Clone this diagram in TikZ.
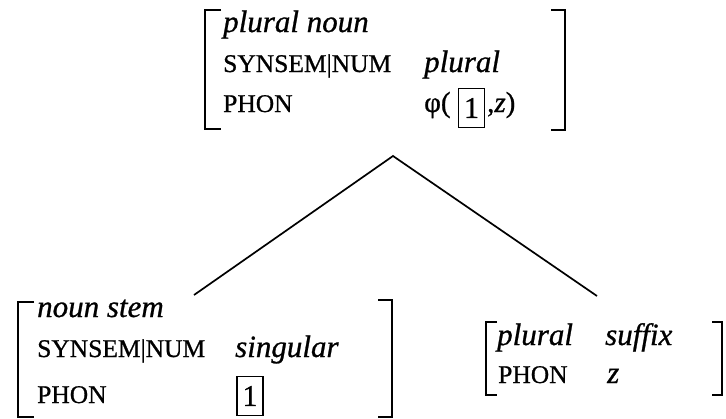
\documentclass[tikz,border=0pt]{standalone}
\usepackage{fontspec}
\setmainfont{Liberation Serif}[FakeBold=0.8]
\begin{document}
\begin{tikzpicture}[x=1pt,y=-1pt,
  br/.style={line width=1.8pt},
  tl/.style={anchor=base west,inner sep=0pt,font=\fontsize{25.5}{30}\selectfont},
  it/.style={anchor=base west,inner sep=0pt,font=\fontsize{31}{36}\selectfont\itshape},
  tagbox/.style={draw,line width=1.4pt,inner sep=0pt,minimum width=26pt,minimum height=39pt,font=\fontsize{30}{34}\selectfont},
  tree/.style={line width=1.7pt}]
\useasboundingbox (0,0) rectangle (726,418);
% top AVM
\draw[br] (221,10) -- (205,10) -- (205,129) -- (221,129);
\draw[br] (551,10) -- (565,10) -- (565,130) -- (551,130);
\node[it] (ttype) at (223,32) {plural noun};
\node[tl] (tsyn) at (223,72) {SYNSEM|NUM};
\node[it] (tnum) at (424,72) {plural};
\node[tl] (tphon) at (223,112) {PHON};
\node[tl,font=\fontsize{29}{34}\selectfont] (tphi) at (424,112) {φ(};
\node[tagbox] (ttag) at (471.5,108) {1};
\node[tl,font=\fontsize{29}{34}\selectfont] (trest) at (487,112) {,\textit{z})};
% tree
\coordinate (apex) at (393,156);
\coordinate (lend) at (194,295);
\coordinate (rend) at (597,296);
\draw[tree] (lend) -- (apex) -- (rend);
% bottom left AVM
\draw[br] (34,302) -- (18,302) -- (18,417) -- (34,417);
\draw[br] (378,300) -- (392,300) -- (392,417) -- (378,417);
\node[it] (ltype) at (37,317) {noun stem};
\node[tl] (lsyn) at (37,357) {SYNSEM|NUM};
\node[it] (lnum) at (235,357) {singular};
\node[tl] (lphon) at (37,403) {PHON};
\node[tagbox] (ltag) at (250,396) {1};
% bottom right AVM
\draw[br] (497,322) -- (486,322) -- (486,395) -- (497,395);
\node[it] (rtype) at (497,345) {plural};
\node[it] (rtype2) at (605,345) {suffix};
\node[tl] (rphon) at (498,383) {PHON};
\node[it] (rz) at (607,383) {z};
\draw[br] (712,322) -- (722,322) -- (722,395) -- (712,395);
\end{tikzpicture}
\end{document}
